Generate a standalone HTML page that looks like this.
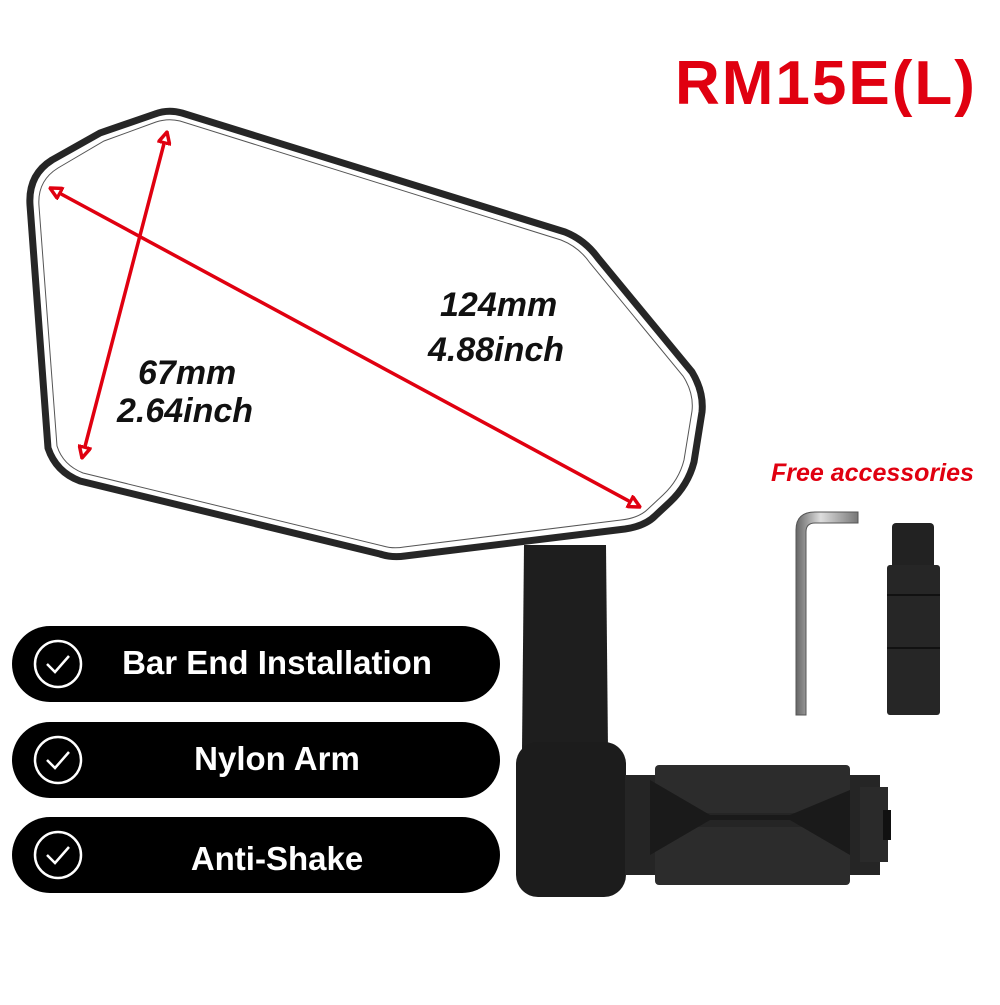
<!DOCTYPE html>
<html><head><meta charset="utf-8"><style>
html,body{margin:0;padding:0;background:#fff;}
body{width:1000px;height:1000px;overflow:hidden;position:relative;font-family:"Liberation Sans",sans-serif;}
</style></head><body>
<svg width="1000" height="1000" viewBox="0 0 1000 1000" xmlns="http://www.w3.org/2000/svg">
<defs>
<marker id="ah" viewBox="0 0 10 10" refX="9" refY="5" markerWidth="4" markerHeight="4" orient="auto-start-reverse">
<path d="M1,1 L9,5 L1,9 z" fill="#fff" stroke="#e00010" stroke-width="2.5"/>
</marker>
<linearGradient id="key" x1="0" x2="1"><stop offset="0" stop-color="#666"/><stop offset="0.4" stop-color="#ddd"/><stop offset="1" stop-color="#777"/></linearGradient>
</defs>
<!-- mirror arm -->
<path d="M524,545 L606,545 L608,750 L522,750 Z" fill="#1e1e1e"/>
<!-- mirror outline -->
<path d="M155,114 Q168,109 182,113 L565,232 Q585,240 598,258 L692,372 Q704,392 702,412 L694,462 Q688,485 670,502 L655,516 Q645,526 625,529 L405,556 Q392,558 380,554 L80,481 Q56,472 48,448 L30,205 Q28,175 52,160 L100,133 Z" fill="#fff" stroke="#262626" stroke-width="7" stroke-linejoin="round"/>
<path d="M156,122 Q168,118 180,121 L561,240 Q579,247 590,263 L683,376 Q694,393 692,411 L684,460 Q679,480 663,495 L648,509 Q639,518 621,520 L404,547 Q393,549 383,546 L83,473 Q63,465 57,446 L39,206 Q37,181 58,168 L104,141 Z" fill="none" stroke="#555" stroke-width="1"/>
<!-- arrows -->
<line x1="167" y1="132" x2="82" y2="458" stroke="#e00010" stroke-width="3.5" marker-start="url(#ah)" marker-end="url(#ah)"/>
<line x1="50" y1="188" x2="640" y2="507" stroke="#e00010" stroke-width="3.5" marker-start="url(#ah)" marker-end="url(#ah)"/>
<g font-family="Liberation Sans,sans-serif" font-weight="bold" font-style="italic" font-size="34" fill="#111">
<text x="138" y="384">67mm</text><text x="117" y="422">2.64inch</text>
<text x="440" y="316">124mm</text><text x="428" y="361">4.88inch</text>
</g>
<text x="675" y="104" font-size="62" font-weight="bold" fill="#e00010" letter-spacing="2">RM15E(L)</text>
<text x="771" y="481" font-size="25" font-weight="bold" font-style="italic" fill="#e00010">Free accessories</text>
<!-- hex key -->
<path d="M796,715 L796,530 Q796,512 815,512 L858,512 L858,523 L815,523 Q806,523 806,532 L806,715 Z" fill="url(#key)" stroke="#555" stroke-width="1"/>
<!-- accessory -->
<rect x="892" y="523" width="42" height="48" rx="4" fill="#222"/>
<rect x="887" y="565" width="53" height="150" rx="3" fill="#262626"/>
<line x1="887" y1="595" x2="940" y2="595" stroke="#111" stroke-width="2"/>
<line x1="887" y1="648" x2="940" y2="648" stroke="#111" stroke-width="2"/>
<!-- bar end body -->
<rect x="516" y="742" width="110" height="155" rx="22" fill="#1c1c1c"/>
<rect x="625" y="775" width="255" height="100" fill="#252525"/>
<rect x="655" y="765" width="195" height="48" rx="4" fill="#2c2c2c"/>
<rect x="655" y="827" width="195" height="58" rx="4" fill="#2c2c2c"/>
<path d="M650,780 L710,815 L790,815 L850,790 L850,855 L790,820 L710,820 L650,855Z" fill="#1a1a1a"/>
<rect x="860" y="787" width="28" height="75" fill="#2a2a2a"/>
<rect x="883" y="810" width="8" height="30" fill="#111"/>
<!-- pills -->
<g>
<rect x="12" y="626" width="488" height="76" rx="38" fill="#000"/>
<rect x="12" y="722" width="488" height="76" rx="38" fill="#000"/>
<rect x="12" y="817" width="488" height="76" rx="38" fill="#000"/>
<g fill="none" stroke="#fff" stroke-width="2.5">
<circle cx="58" cy="664" r="23"/><path d="M47,664 L55,672 L69,656"/>
<circle cx="58" cy="760" r="23"/><path d="M47,760 L55,768 L69,752"/>
<circle cx="58" cy="855" r="23"/><path d="M47,855 L55,863 L69,847"/>
</g>
<g font-size="33" font-weight="bold" fill="#fff" text-anchor="middle">
<text x="277" y="674">Bar End Installation</text>
<text x="277" y="770">Nylon Arm</text>
<text x="277" y="870">Anti-Shake</text>
</g>
</g>
</svg>
</body></html>
